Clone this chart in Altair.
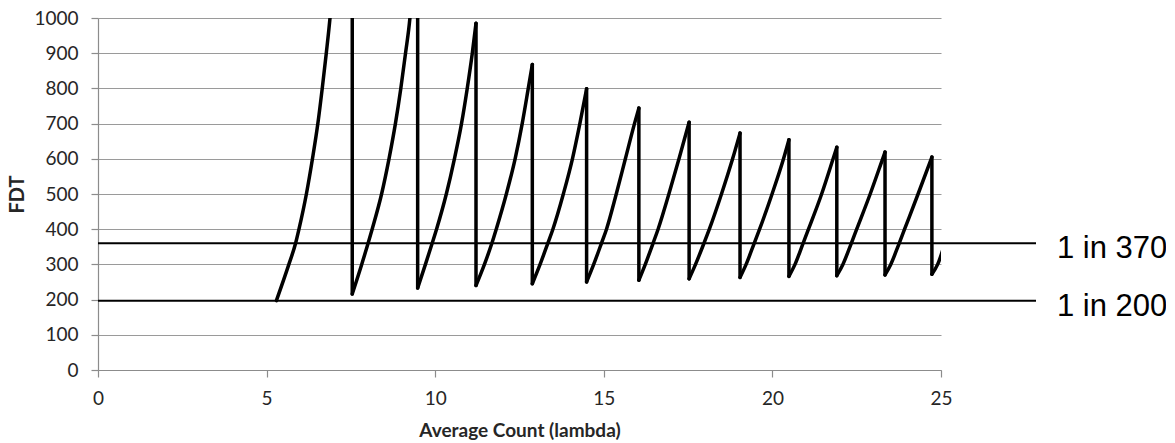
import altair as alt
import pandas as pd

# Average count (lambda) and FDT, tooth by tooth
tooth = (
    [1] * 11 + [2] * 11 + [3] * 10 + [4] * 9 + [5] * 8 + [6] * 8 + [7] * 7
    + [8] * 7 + [9] * 7 + [10] * 7 + [11] * 7 + [12] * 6 + [13] * 3
)
lam = [
    5.29, 5.66, 5.86, 5.96, 6.18, 6.36, 6.52, 6.65, 6.77, 6.88, 7.54,
    7.54, 7.82, 8.01, 8.13, 8.41, 8.63, 8.82, 8.98, 9.12, 9.25, 9.48,
    9.48, 9.71, 9.91, 10.04, 10.33, 10.57, 10.78, 10.95, 11.10, 11.21,
    11.21, 11.46, 11.68, 11.81, 12.11, 12.37, 12.58, 12.76, 12.88,
    12.88, 13.11, 13.34, 13.49, 13.80, 14.07, 14.29, 14.49,
    14.49, 14.70, 14.93, 15.08, 15.37, 15.64, 15.91, 16.04,
    16.04, 16.23, 16.46, 16.61, 16.93, 17.23, 17.53,
    17.53, 17.72, 17.97, 18.13, 18.49, 18.82, 19.04,
    19.04, 19.22, 19.46, 19.62, 19.99, 20.33, 20.49,
    20.49, 20.67, 20.91, 21.07, 21.46, 21.80, 21.91,
    21.91, 22.09, 22.34, 22.50, 22.90, 23.27, 23.34,
    23.34, 23.51, 23.76, 23.92, 24.32, 24.73,
    24.73, 24.90, 25.10,
]
fdt = [
    197, 300, 360, 400, 500, 600, 700, 800, 900, 1000, 2200,
    216, 300, 360, 400, 500, 600, 700, 800, 900, 1000, 1350,
    233, 300, 360, 400, 500, 600, 700, 800, 900, 985,
    240, 300, 360, 400, 500, 600, 700, 800, 868,
    245, 300, 360, 400, 500, 600, 700, 799,
    250, 300, 360, 400, 500, 600, 700, 744,
    255, 300, 360, 400, 500, 600, 704,
    259, 300, 360, 400, 500, 600, 673,
    263, 300, 360, 400, 500, 600, 654,
    266, 300, 360, 400, 500, 600, 633,
    268, 300, 360, 400, 500, 600, 619,
    270, 300, 360, 400, 500, 605,
    272, 300, 355,
]

limit_values = [360, 197]
limit_labels = ["1 in 370", "1 in 200"]

x_ticks = [0, 5, 10, 15, 20, 25]
y_ticks = [0, 100, 200, 300, 400, 500, 600, 700, 800, 900, 1000]

W, H = 843, 352

df = pd.DataFrame({"lam": lam, "fdt": fdt, "tooth": tooth, "i": list(range(len(lam)))})

# vertical drops: end of one tooth down to the start of the next
drop_rows = []
for k in sorted(set(tooth))[:-1]:
    cur = df[df.tooth == k]
    nxt = df[df.tooth == k + 1]
    drop_rows.append({"lam": cur.lam.iloc[-1], "fdt": cur.fdt.iloc[-1], "fdt2": nxt.fdt.iloc[0]})
drops = pd.DataFrame(drop_rows)

lim = pd.DataFrame({"fdt": limit_values, "label": limit_labels})

x_scale = alt.Scale(domain=[0, 25], nice=False, zero=False)
y_scale = alt.Scale(domain=[0, 1000], nice=False)

x_axis = alt.Axis(values=x_ticks, title="Average Count (lambda)", grid=False,
                  labelBaseline="alphabetic", labelPadding=27, labelFlush=False,
                  titleX=W / 2, titleY=66, titleAlign="center",
                  titleBaseline="alphabetic", titleFontSize=19)
y_axis = alt.Axis(values=y_ticks, title="FDT", grid=True, format="d",
                  labelPadding=13, labelBaseline="middle", labelFlush=False,
                  titleX=-81, titleY=H / 2, titleAngle=-90,
                  titleAlign="center", titleBaseline="middle", titleFontSize=20)

curve = alt.Chart(df).mark_line(
    color="black", strokeWidth=3.5, clip=True, interpolate="monotone",
    strokeCap="round", strokeJoin="round",
).encode(
    x=alt.X("lam:Q", scale=x_scale, axis=x_axis),
    y=alt.Y("fdt:Q", scale=y_scale, axis=y_axis),
    detail="tooth:N",
    order="i:Q",
)

drop_lines = alt.Chart(drops).mark_rule(
    color="black", strokeWidth=3.5, clip=True, strokeCap="round",
).encode(
    x=alt.X("lam:Q", scale=x_scale, axis=x_axis),
    y=alt.Y("fdt:Q", scale=y_scale, axis=y_axis),
    y2="fdt2:Q",
)

rules = alt.Chart(lim).mark_rule(color="black", strokeWidth=2).encode(
    x=alt.value(0), x2=alt.value(938),
    y=alt.Y("fdt:Q", scale=y_scale, axis=y_axis),
)

labels = alt.Chart(lim).mark_text(
    align="left", baseline="alphabetic", dy=15,
    font="Liberation Sans", fontSize=31, color="black",
).encode(
    x=alt.value(959),
    y=alt.Y("fdt:Q", scale=y_scale, axis=y_axis),
    text="label:N",
)

chart = alt.layer(curve, drop_lines, rules, labels).properties(
    width=W, height=H,
    autosize=alt.AutoSizeParams(type="none"),
    padding={"left": 90, "top": 10, "right": 225, "bottom": 70},
).configure_view(stroke=None).configure_axis(
    domainColor="#8c8c8c", tickColor="#8c8c8c", gridColor="#9a9a9a",
    domainWidth=1.2, tickWidth=1.2, gridWidth=1.2, tickSize=7,
    labelFont="Lato", labelFontSize=19, labelColor="#262626",
    titleFont="Lato", titleFontWeight="bold", titleColor="#262626",
)

chart.save("out.html", embed_options={"renderer": "svg", "actions": False})
